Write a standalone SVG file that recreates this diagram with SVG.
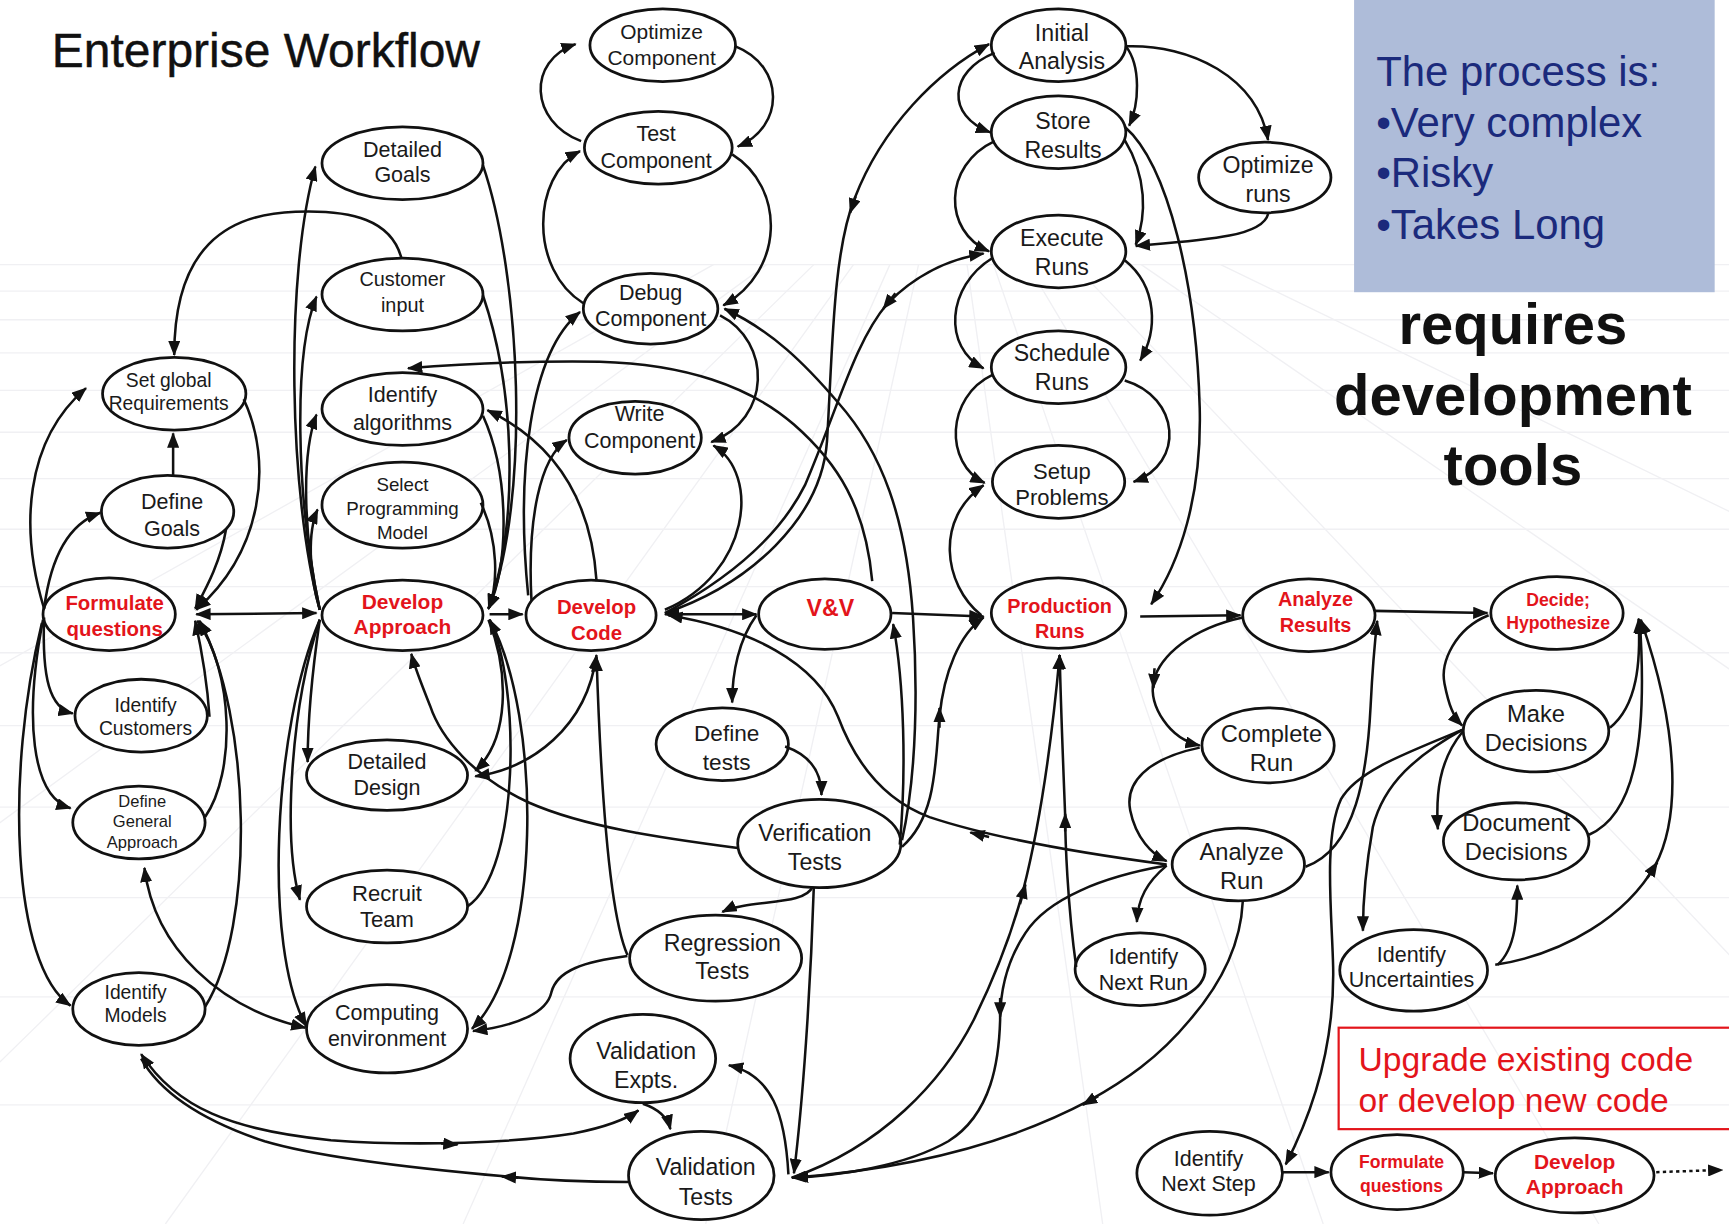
<svg xmlns="http://www.w3.org/2000/svg" width="1729" height="1224" viewBox="0 0 1729 1224">
<defs>
<style>
.n ellipse{fill:#fff;stroke:#111;stroke-width:2.5}
.n text{font-family:"Liberation Sans",Arial,sans-serif;fill:#1a1a1a;text-anchor:middle}
.n text.r{font-weight:bold;fill:#e3141b}
.c path{fill:none;stroke:#111;stroke-width:2.3;marker-end:url(#ah)}
.c path.b{marker-start:url(#ah)}
.c path.s{marker-end:none;marker-start:url(#ah)}
.c path.x{marker-end:none}
.bg line{stroke:#f0f0f3;stroke-width:1.2}
</style>
<marker id="ah" viewBox="0 0 14 11" refX="13" refY="5.5" markerWidth="14" markerHeight="11" markerUnits="userSpaceOnUse" orient="auto-start-reverse"><path d="M0,0 L14,5.5 L0,11 z" fill="#111"/></marker>
</defs>
<rect width="1729" height="1224" fill="#fff"/>
<g transform="scale(1.10268)">
<g class="bg">
<line x1="0" y1="240" x2="1568" y2="240"/><line x1="0" y1="264" x2="1568" y2="264"/><line x1="0" y1="290" x2="1568" y2="290"/><line x1="0" y1="320" x2="1568" y2="320"/><line x1="0" y1="354" x2="1568" y2="354"/><line x1="0" y1="392" x2="1568" y2="392"/><line x1="0" y1="434" x2="1568" y2="434"/><line x1="0" y1="480" x2="1568" y2="480"/><line x1="0" y1="532" x2="1568" y2="532"/><line x1="0" y1="592" x2="1568" y2="592"/><line x1="0" y1="658" x2="1568" y2="658"/><line x1="0" y1="732" x2="1568" y2="732"/><line x1="0" y1="814" x2="1568" y2="814"/><line x1="0" y1="904" x2="1568" y2="904"/><line x1="0" y1="1002" x2="1568" y2="1002"/>
<line x1="647" y1="240" x2="-900" y2="1110"/><line x1="695" y1="240" x2="-500" y2="1110"/><line x1="738" y1="240" x2="-150" y2="1110"/><line x1="774" y1="240" x2="150" y2="1110"/><line x1="807" y1="240" x2="420" y2="1110"/><line x1="833" y1="240" x2="640" y2="1110"/><line x1="877" y1="240" x2="1000" y2="1110"/><line x1="901" y1="240" x2="1200" y2="1110"/><line x1="932" y1="240" x2="1450" y2="1110"/><line x1="974" y1="240" x2="1800" y2="1110"/><line x1="1035" y1="240" x2="2300" y2="1110"/><line x1="1107" y1="240" x2="2900" y2="1110"/>
</g>
<g id="title"><text x="47" y="61" font-family="Liberation Sans,Arial,sans-serif" font-size="43.5" fill="#111" stroke="#111" stroke-width="0.4">Enterprise Workflow</text></g>
<g id="note-box">
<rect x="1228" y="0" width="327" height="265" fill="#aebcd9"/>
<g font-family="Liberation Sans,Arial,sans-serif" font-size="38" fill="#1b2a7c">
<text x="1248" y="78">The process is:</text>
<text x="1248" y="124">•Very complex</text>
<text x="1248" y="170">•Risky</text>
<text x="1248" y="217">•Takes Long</text>
</g>
</g>
<g id="requires" font-family="Liberation Sans,Arial,sans-serif" font-size="52.6" font-weight="bold" fill="#111" text-anchor="middle">
<text x="1372" y="312">requires</text>
<text x="1372" y="376">development</text>
<text x="1372" y="440">tools</text>
</g>
<g id="upgrade-box">
<rect x="1214" y="932" width="360" height="92" fill="none" stroke="#e3141b" stroke-width="2"/>
<g font-family="Liberation Sans,Arial,sans-serif" font-size="30.5" fill="#e3141b">
<text x="1232" y="971">Upgrade existing code</text>
<text x="1232" y="1008">or develop new code</text>
</g>
</g>
<g id="nodes">
<g id="optComp" class="n"><ellipse cx="601" cy="41" rx="66" ry="33"/><text x="600" y="35" font-size="19">Optimize</text><text x="600" y="59" font-size="19">Component</text></g>
<g id="testComp" class="n"><ellipse cx="597" cy="134" rx="67" ry="33"/><text x="595" y="128" font-size="19.5">Test</text><text x="595" y="152" font-size="19.5">Component</text></g>
<g id="debugComp" class="n"><ellipse cx="590" cy="280" rx="61" ry="32"/><text x="590" y="272" font-size="19.5">Debug</text><text x="590" y="296" font-size="19.5">Component</text></g>
<g id="writeComp" class="n"><ellipse cx="576" cy="397" rx="60" ry="33"/><text x="580" y="382" font-size="19.5">Write</text><text x="580" y="406" font-size="19.5">Component</text></g>
<g id="detGoals" class="n"><ellipse cx="365" cy="148" rx="73" ry="33"/><text x="365" y="142" font-size="19.5">Detailed</text><text x="365" y="165" font-size="19.5">Goals</text></g>
<g id="custInput" class="n"><ellipse cx="365" cy="267" rx="73" ry="33"/><text x="365" y="259" font-size="18">Customer</text><text x="365" y="283" font-size="18">input</text></g>
<g id="identAlg" class="n"><ellipse cx="365" cy="371" rx="73" ry="33"/><text x="365" y="365" font-size="19.5">Identify</text><text x="365" y="390" font-size="19.5">algorithms</text></g>
<g id="selPM" class="n"><ellipse cx="365" cy="458" rx="73" ry="39"/><text x="365" y="445" font-size="17">Select</text><text x="365" y="467" font-size="17">Programming</text><text x="365" y="489" font-size="17">Model</text></g>
<g id="devApp" class="n"><ellipse cx="365" cy="558" rx="73" ry="32"/><text class="r" x="365" y="552" font-size="19">Develop</text><text class="r" x="365" y="575" font-size="19">Approach</text></g>
<g id="detDesign" class="n"><ellipse cx="351" cy="703" rx="73" ry="32"/><text x="351" y="697" font-size="19.5">Detailed</text><text x="351" y="721" font-size="19.5">Design</text></g>
<g id="recruit" class="n"><ellipse cx="351" cy="822" rx="73" ry="33"/><text x="351" y="817" font-size="20">Recruit</text><text x="351" y="841" font-size="20">Team</text></g>
<g id="compEnv" class="n"><ellipse cx="351" cy="933" rx="73" ry="40"/><text x="351" y="925" font-size="19.5">Computing</text><text x="351" y="949" font-size="19.5">environment</text></g>
<g id="setGlobal" class="n"><ellipse cx="158" cy="357" rx="65" ry="33"/><text x="153" y="351" font-size="17.5">Set global</text><text x="153" y="372" font-size="17.5">Requirements</text></g>
<g id="defGoals" class="n"><ellipse cx="152" cy="464" rx="60" ry="33"/><text x="156" y="462" font-size="19.5">Define</text><text x="156" y="486" font-size="19.5">Goals</text></g>
<g id="formQ" class="n"><ellipse cx="99" cy="557" rx="60" ry="33"/><text class="r" x="104" y="553" font-size="18.5">Formulate</text><text class="r" x="104" y="577" font-size="18.5">questions</text></g>
<g id="idCust" class="n"><ellipse cx="128" cy="649" rx="60" ry="33"/><text x="132" y="646" font-size="17.5">Identify</text><text x="132" y="667" font-size="17.5">Customers</text></g>
<g id="defGen" class="n"><ellipse cx="126" cy="746" rx="60" ry="33"/><text x="129" y="732" font-size="15">Define</text><text x="129" y="750" font-size="15">General</text><text x="129" y="769" font-size="15">Approach</text></g>
<g id="idModels" class="n"><ellipse cx="126" cy="915" rx="60" ry="33"/><text x="123" y="906" font-size="17.5">Identify</text><text x="123" y="927" font-size="17.5">Models</text></g>
<g id="devCode" class="n"><ellipse cx="536" cy="558" rx="59" ry="32"/><text class="r" x="541" y="557" font-size="18.5">Develop</text><text class="r" x="541" y="580" font-size="18.5">Code</text></g>
<g id="vv" class="n"><ellipse cx="748" cy="557" rx="60" ry="32"/><text class="r" x="753" y="559" font-size="21">V&amp;V</text></g>
<g id="defTests" class="n"><ellipse cx="655" cy="675" rx="60" ry="33"/><text x="659" y="672" font-size="20.5">Define</text><text x="659" y="698" font-size="20.5">tests</text></g>
<g id="verif" class="n"><ellipse cx="743" cy="765" rx="74" ry="40"/><text x="739" y="763" font-size="21">Verification</text><text x="739" y="789" font-size="21">Tests</text></g>
<g id="regr" class="n"><ellipse cx="649" cy="869" rx="78" ry="39"/><text x="655" y="862" font-size="21">Regression</text><text x="655" y="888" font-size="21">Tests</text></g>
<g id="valExp" class="n"><ellipse cx="583" cy="960" rx="66" ry="40"/><text x="586" y="960" font-size="21">Validation</text><text x="586" y="987" font-size="21">Expts.</text></g>
<g id="valTests" class="n"><ellipse cx="636" cy="1066" rx="66" ry="40"/><text x="640" y="1066" font-size="21">Validation</text><text x="640" y="1093" font-size="21">Tests</text></g>
<g id="initA" class="n"><ellipse cx="960" cy="41" rx="61" ry="33"/><text x="963" y="37" font-size="21">Initial</text><text x="963" y="63" font-size="21">Analysis</text></g>
<g id="storeR" class="n"><ellipse cx="960" cy="120" rx="61" ry="33"/><text x="964" y="117" font-size="21">Store</text><text x="964" y="143" font-size="21">Results</text></g>
<g id="execR" class="n"><ellipse cx="960" cy="228" rx="61" ry="33"/><text x="963" y="223" font-size="21">Execute</text><text x="963" y="249" font-size="21">Runs</text></g>
<g id="schedR" class="n"><ellipse cx="960" cy="333" rx="61" ry="33"/><text x="963" y="327" font-size="21">Schedule</text><text x="963" y="354" font-size="21">Runs</text></g>
<g id="setupP" class="n"><ellipse cx="960" cy="437" rx="60" ry="33"/><text x="963" y="434" font-size="20">Setup</text><text x="963" y="458" font-size="20">Problems</text></g>
<g id="prodR" class="n"><ellipse cx="960" cy="556" rx="61" ry="32"/><text class="r" x="961" y="556" font-size="18">Production</text><text class="r" x="961" y="579" font-size="18">Runs</text></g>
<g id="optRuns" class="n"><ellipse cx="1147" cy="161" rx="60" ry="32"/><text x="1150" y="157" font-size="21">Optimize</text><text x="1150" y="183" font-size="21">runs</text></g>
<g id="anaRes" class="n"><ellipse cx="1187" cy="558" rx="60" ry="33"/><text class="r" x="1193" y="550" font-size="18">Analyze</text><text class="r" x="1193" y="573" font-size="18">Results</text></g>
<g id="decide" class="n"><ellipse cx="1412" cy="556" rx="60" ry="33"/><text class="r" x="1413" y="550" font-size="16">Decide;</text><text class="r" x="1413" y="570" font-size="16">Hypothesize</text></g>
<g id="complRun" class="n"><ellipse cx="1150" cy="676" rx="60" ry="34"/><text x="1153" y="673" font-size="21.5">Complete</text><text x="1153" y="699" font-size="21.5">Run</text></g>
<g id="anaRun" class="n"><ellipse cx="1123" cy="784" rx="60" ry="33"/><text x="1126" y="780" font-size="21.5">Analyze</text><text x="1126" y="806" font-size="21.5">Run</text></g>
<g id="idNextRun" class="n"><ellipse cx="1034" cy="879" rx="59" ry="33"/><text x="1037" y="874" font-size="19.5">Identify</text><text x="1037" y="898" font-size="19.5">Next Run</text></g>
<g id="makeDec" class="n"><ellipse cx="1393" cy="663" rx="66" ry="37"/><text x="1393" y="655" font-size="21.5">Make</text><text x="1393" y="681" font-size="21.5">Decisions</text></g>
<g id="docDec" class="n"><ellipse cx="1375" cy="763" rx="66" ry="35"/><text x="1375" y="754" font-size="21.5">Document</text><text x="1375" y="780" font-size="21.5">Decisions</text></g>
<g id="idUnc" class="n"><ellipse cx="1282" cy="880" rx="67" ry="37"/><text x="1280" y="872" font-size="19.5">Identify</text><text x="1280" y="895" font-size="19.5">Uncertainties</text></g>
<g id="idNextStep" class="n"><ellipse cx="1097" cy="1064" rx="66" ry="38"/><text x="1096" y="1057" font-size="19.5">Identify</text><text x="1096" y="1080" font-size="19.5">Next Step</text></g>
<g id="formQ2" class="n"><ellipse cx="1267" cy="1063" rx="60" ry="34"/><text class="r" x="1271" y="1059" font-size="16">Formulate</text><text class="r" x="1271" y="1081" font-size="16">questions</text></g>
<g id="devApp2" class="n"><ellipse cx="1428" cy="1066" rx="72" ry="34"/><text class="r" x="1428" y="1060" font-size="19">Develop</text><text class="r" x="1428" y="1083" font-size="19">Approach</text></g>
</g>
<g id="connectors" class="c">
<path d="M40,552 C18,480 22,400 78,352"/>
<path d="M40,552 C46,505 62,475 91,465"/>
<path d="M40,560 C38,615 45,642 66,647"/>
<path d="M39,562 C22,650 28,722 64,733"/>
<path d="M38,565 C5,700 10,875 64,912"/>
<path d="M157,431 L157,393"/>
<path d="M364,234 C355,200 320,190 268,192 C205,194 158,225 158,322"/>
<path d="M221,362 C248,420 238,500 178,553"/>
<path d="M205,480 C200,510 186,535 177,552"/>
<path d="M190,650 C188,620 183,590 177,563"/>
<path d="M186,741 C214,700 212,610 179,563"/>
<path d="M186,913 C232,840 228,650 181,563"/>
<path class="b" d="M178,557 L287,556"/>
<path d="M290,553 C262,450 258,250 286,151"/>
<path d="M290,553 C268,450 266,320 287,269"/>
<path d="M290,553 C274,480 274,410 287,376"/>
<path d="M290,553 C280,520 279,482 288,462"/>
<path d="M290,562 C283,610 279,660 279,691"/>
<path d="M290,562 C264,640 256,760 272,816"/>
<path d="M290,562 C248,660 238,860 278,931"/>
<path d="M438,150 C472,250 482,450 443,552"/>
<path d="M438,268 C466,350 472,470 443,552"/>
<path d="M436,456 C452,490 452,530 443,552"/>
<path d="M438,377 C462,430 462,510 443,552"/>
<path d="M443,562 C462,610 462,670 431,699"/>
<path class="b" d="M541,594 C532,660 482,697 431,704"/>
<path d="M424,822 C472,790 472,620 444,562"/>
<path d="M444,562 C492,650 492,870 428,933"/>
<path d="M444,557 L474,557"/>
<path d="M541,527 C536,450 500,400 442,372"/>
<path d="M482,545 C478,470 490,415 514,399"/>
<path d="M479,540 C468,430 480,320 526,283"/>
<path d="M527,128 C480,110 478,55 522,40"/>
<path d="M667,42 C712,60 712,115 669,133"/>
<path d="M529,275 C480,245 482,160 526,137"/>
<path d="M664,140 C712,170 712,245 656,277"/>
<path d="M653,286 C700,310 700,380 645,401"/>
<path d="M603,553 C680,520 690,430 647,404"/>
<path class="b" d="M603,557 L686,557"/>
<path d="M603,556 C680,530 745,470 750,400 C755,320 755,230 775,180 C800,115 850,65 897,40"/>
<path d="M776,178 L771,193"/>
<path d="M603,556 C670,520 710,480 730,440 C760,370 775,310 805,275 C830,250 860,235 892,230"/>
<path d="M812,266 L801,280"/>
<path d="M791,527 C785,460 760,420 720,385 C680,350 620,330 544,328 C480,327 420,330 370,334"/>
<path d="M818,762 C832,700 832,620 828,560 C822,470 800,410 760,365 C730,330 700,300 657,280"/>
<path d="M816,766 C822,700 820,620 810,566"/>
<path d="M818,768 C850,740 848,690 852,650 C856,610 870,575 892,560"/>
<path d="M852,660 L852,642"/>
<path d="M809,556 L892,559"/>
<path d="M686,558 C670,580 664,610 664,637"/>
<path d="M712,677 C735,685 745,700 745,721"/>
<path d="M669,769 C600,760 530,750 480,728 C430,705 400,670 390,640 C382,620 376,605 373,593"/>
<path d="M737,804 C730,822 680,815 655,827"/>
<path d="M738,805 C735,900 728,1000 720,1064"/>
<path d="M569,866 C553,830 545,720 541,596"/>
<path d="M569,867 C530,872 505,880 500,900 C496,918 470,930 429,935"/>
<path class="b" d="M131,787 C140,860 200,915 277,932"/>
<path class="b" d="M128,956 C160,1005 210,1025 300,1034 C380,1040 470,1036 520,1028 C550,1022 568,1015 579,1007"/>
<path d="M400,1037 L415,1038"/>
<path class="x" d="M570,1072 C530,1072 490,1070 460,1067 C380,1060 290,1050 240,1035 C180,1015 145,990 128,960"/>
<path d="M470,1068 L455,1067"/>
<path d="M583,1001 C595,1005 605,1012 608,1024"/>
<path d="M715,1065 C712,1010 700,975 661,966"/>
<path d="M1127,818 C1125,860 1105,895 1079,925 C1050,960 1020,980 988,998 C900,1045 800,1062 718,1068"/>
<path d="M996,994 L982,1002"/>
<path d="M1058,785 C1000,795 950,815 930,846 C912,873 907,900 907,925 C906,960 900,1010 860,1035 C820,1058 760,1066 720,1068"/>
<path d="M907,905 L907,922"/>
<path d="M718,1068 C800,1040 855,980 883,925 C905,880 918,845 928,807 C945,740 955,660 961,594"/>
<path d="M925,820 L930,802"/>
<path d="M976,877 C968,820 966,760 966,740 C964,690 962,640 961,594"/>
<path d="M966,754 L966,738"/>
<path d="M1058,785 C1040,800 1032,815 1031,836"/>
<path d="M1088,678 C1040,688 1020,710 1025,735 C1030,760 1045,775 1058,781"/>
<path class="s" d="M606,558 C680,570 740,600 760,650 C775,690 800,725 843,741 C900,760 990,775 1058,784"/>
<path d="M897,759 L880,755"/>
<path d="M1034,559 L1125,558"/>
<path d="M1127,560 C1080,570 1052,595 1046,618 C1042,640 1060,670 1088,676"/>
<path d="M1047,606 L1046,624"/>
<path d="M1020,115 C1060,150 1085,260 1088,370 C1090,450 1070,510 1044,548"/>
<path d="M1184,786 C1230,770 1240,700 1243,640 C1245,600 1247,580 1249,563"/>
<path d="M1246,554 L1349,556"/>
<path d="M1350,558 C1320,570 1306,600 1310,620 C1314,640 1318,650 1326,658"/>
<path d="M1460,660 C1485,640 1488,600 1486,561"/>
<path d="M1441,757 C1480,740 1495,680 1487,562"/>
<path d="M1356,875 C1420,865 1475,830 1501,785 C1525,740 1522,660 1488,562"/>
<path d="M1494,796 L1503,782"/>
<path d="M1358,875 C1375,860 1376,830 1376,803"/>
<path d="M1326,664 C1305,690 1302,720 1304,752"/>
<path d="M1326,662 C1285,685 1255,710 1245,750 C1238,790 1236,820 1236,844"/>
<path d="M1326,662 C1270,685 1230,700 1216,725 C1200,760 1208,830 1209,877 C1210,930 1200,990 1166,1056"/>
<path d="M1163,1063 L1205,1063"/>
<path d="M1327,1063 L1354,1064"/>
<path d="M1502,1063 L1562,1061" stroke-dasharray="3 3" stroke-width="2.8"/>
<path d="M902,48 C860,65 858,105 898,120"/>
<path d="M902,128 C855,150 855,210 897,228"/>
<path d="M900,234 C858,260 855,315 892,334"/>
<path d="M900,340 C858,360 856,420 893,438"/>
<path d="M890,558 C855,530 848,470 892,440"/>
<path d="M1021,42 C1035,60 1033,95 1024,114"/>
<path d="M1021,42 C1080,40 1140,70 1150,127"/>
<path d="M1150,194 C1145,215 1090,218 1030,223"/>
<path d="M1020,127 C1040,160 1040,195 1030,222"/>
<path d="M1020,236 C1050,260 1050,300 1034,327"/>
<path d="M1020,345 C1070,360 1075,420 1028,437"/>
</g>
</g>
</svg>
